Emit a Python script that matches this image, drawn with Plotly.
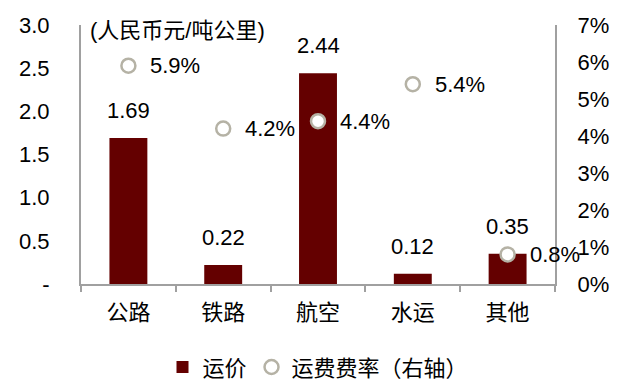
import plotly.graph_objects as go

categories = ["公路", "铁路", "航空", "水运", "其他"]
price = [1.69, 0.22, 2.44, 0.12, 0.35]
rate = [0.059, 0.042, 0.044, 0.054, 0.008]
price_labels = ["1.69", "0.22", "2.44", "0.12", "0.35"]
rate_labels = ["5.9%", "4.2%", "4.4%", "5.4%", "0.8%"]
left_ticks = [0, 0.5, 1.0, 1.5, 2.0, 2.5, 3.0]
left_tick_text = ["-", "0.5", "1.0", "1.5", "2.0", "2.5", "3.0"]
right_ticks = [0, 0.01, 0.02, 0.03, 0.04, 0.05, 0.06, 0.07]
right_tick_text = ["0%", "1%", "2%", "3%", "4%", "5%", "6%", "7%"]

FONT = "Liberation Sans, Arial, Noto Sans CJK SC, sans-serif"
FS = 22

fig = go.Figure()
fig.add_trace(go.Bar(
    x=categories, y=price, name="运价",
    marker=dict(color="#640000", line=dict(width=0)),
    width=0.4, cliponaxis=False,
))
fig.add_trace(go.Scatter(
    x=categories, y=rate, name="运费费率（右轴）", yaxis="y2",
    mode="markers", cliponaxis=False,
    marker=dict(symbol="circle", size=14, color="#ffffff",
                line=dict(color="#b5b2a5", width=2.5)),
))

for c, v, t in zip(categories, price, price_labels):
    fig.add_annotation(x=c, y=v, xref="x", yref="y", text=t, showarrow=False,
                       yanchor="bottom", yshift=13,
                       font=dict(size=FS, color="#000000", family=FONT))
for c, v, t in zip(categories, rate, rate_labels):
    fig.add_annotation(x=c, y=v, xref="x", yref="y2", text=t, showarrow=False,
                       xanchor="left", xshift=20, yanchor="middle",
                       font=dict(size=FS, color="#000000", family=FONT))

fig.add_annotation(
    x=0, xref="paper", xanchor="left", xshift=7,
    y=1.0, yref="paper", yanchor="middle", yshift=-5,
    text="(人民币元/吨公里)", showarrow=False,
    font=dict(size=FS, color="#000000", family=FONT),
)

fig.update_layout(
    width=633, height=388,
    margin=dict(l=81, r=78, t=25, b=104, autoexpand=False),
    paper_bgcolor="#ffffff", plot_bgcolor="#ffffff",
    font=dict(family=FONT, size=FS, color="#000000"),
    showlegend=True,
    legend=dict(orientation="h", x=0.5, xanchor="center", y=-0.24, yanchor="top",
                font=dict(size=FS, family=FONT), itemwidth=30,
                traceorder="normal"),
    xaxis=dict(
        type="category", range=[-0.5, 4.5],
        showline=True, linecolor="#a0a0a0", linewidth=2,
        ticks="outside", tickson="boundaries", ticklen=6, tickcolor="#a0a0a0",
        tickwidth=2, showgrid=False, tickfont=dict(size=FS, family=FONT),
        zeroline=False, automargin=False, ticklabelstandoff=8,
    ),
    yaxis=dict(
        range=[0, 3.0], tickvals=left_ticks, ticktext=left_tick_text,
        showline=True, linecolor="#a0a0a0", linewidth=2, showgrid=False,
        zeroline=False, ticks="", ticklabelstandoff=25, automargin=False,
        tickfont=dict(size=FS, family=FONT),
    ),
    yaxis2=dict(
        range=[0, 0.07], tickvals=right_ticks, ticktext=right_tick_text,
        overlaying="y", side="right", showline=True, linecolor="#a0a0a0",
        linewidth=2, showgrid=False, zeroline=False, ticks="",
        ticklabelstandoff=16, automargin=False,
        tickfont=dict(size=FS, family=FONT),
    ),
)

fig.write_html("out.html", config={"displayModeBar": False},
               post_script="document.body.style.margin='0';document.body.style.overflow='hidden';")
